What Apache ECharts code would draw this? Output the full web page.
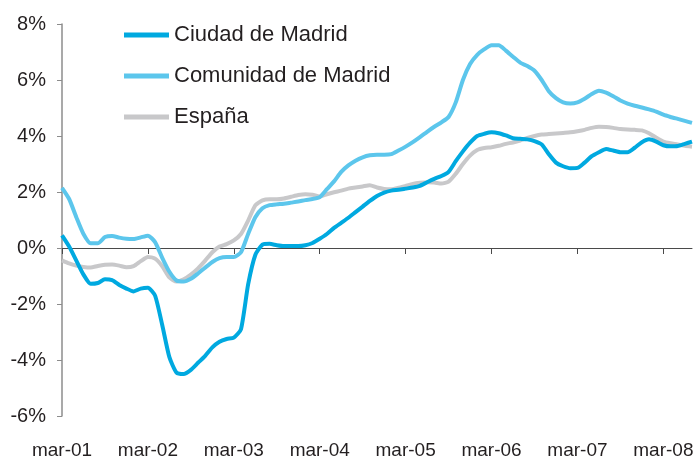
<!DOCTYPE html>
<html>
<head>
<meta charset="utf-8">
<script src="https://cdn.jsdelivr.net/npm/echarts@6/dist/echarts.min.js"></script>
<style>
  html, body { margin: 0; padding: 0; background: #fff; }
  #chart { width: 700px; height: 460px; }
</style>
</head>
<body>
<div id="chart"></div>
<script>
// monthly series, mar-01 .. jul-08
var monthNames = ['ene', 'feb', 'mar', 'abr', 'may', 'jun', 'jul', 'ago', 'sep', 'oct', 'nov', 'dic']
var months = []
for (var y = 1; y <= 8; y++) {
  for (var m = 0; m < 12; m++) {
    if (y === 1 && m < 2) continue
    if (y === 8 && m > 6) continue
    months.push(monthNames[m] + '-0' + y)
  }
}

var ciudad = [
  0.45, 0.05, -0.45, -0.95, -1.28, -1.25, -1.12, -1.15, -1.32, -1.45, -1.55, -1.45,
  -1.42, -1.7, -2.75, -3.9, -4.45, -4.5, -4.35, -4.1, -3.85, -3.55, -3.35, -3.25,
  -3.2, -2.9, -1.3, -0.25, 0.12, 0.15, 0.1, 0.07, 0.07, 0.07, 0.1, 0.18,
  0.33, 0.5, 0.72, 0.9, 1.08, 1.28, 1.48, 1.68, 1.86, 1.98, 2.05, 2.08,
  2.12, 2.16, 2.22, 2.35, 2.47, 2.57, 2.72, 3.1, 3.45, 3.76, 4.0, 4.08,
  4.13, 4.1, 4.02, 3.92, 3.9, 3.88, 3.82, 3.7, 3.35, 3.05, 2.92, 2.85,
  2.86, 3.05, 3.28, 3.42, 3.54, 3.48, 3.42, 3.42, 3.58, 3.78, 3.88, 3.8,
  3.67, 3.63, 3.64, 3.72, 3.8
]

var comunidad = [
  2.15, 1.75, 1.1, 0.5, 0.17, 0.17, 0.39, 0.43, 0.37, 0.33, 0.32, 0.38,
  0.44, 0.21, -0.35, -0.85, -1.16, -1.2, -1.1, -0.91, -0.7, -0.5, -0.36, -0.32,
  -0.32, -0.15, 0.5, 1.1, 1.42, 1.53, 1.56, 1.58, 1.62, 1.66, 1.71, 1.75,
  1.82, 2.1, 2.38, 2.72, 2.95, 3.12, 3.24, 3.31, 3.33, 3.33, 3.35, 3.48,
  3.62, 3.78, 3.96, 4.15, 4.33, 4.49, 4.68, 5.2, 6.0, 6.57, 6.9, 7.1,
  7.24, 7.24, 7.05, 6.83, 6.62, 6.5, 6.33, 6.0, 5.6, 5.35, 5.2, 5.16,
  5.2, 5.33, 5.5, 5.62, 5.55, 5.42, 5.27, 5.16, 5.08, 5.02, 4.95, 4.87,
  4.76, 4.68, 4.61, 4.54, 4.47
]

var espana = [
  -0.44, -0.55, -0.63, -0.68, -0.7, -0.64, -0.6, -0.59, -0.63, -0.69, -0.65, -0.47,
  -0.32, -0.38, -0.65, -1.05, -1.2, -1.12, -0.95, -0.73, -0.45, -0.15, 0.05, 0.14,
  0.27, 0.5, 0.98, 1.52, 1.7, 1.74, 1.74, 1.77, 1.83, 1.89, 1.92, 1.9,
  1.84, 1.92, 1.99, 2.05, 2.12, 2.16, 2.2, 2.24, 2.16, 2.11, 2.1, 2.15,
  2.22, 2.29, 2.33, 2.35, 2.34, 2.3, 2.37, 2.65, 3.0, 3.3, 3.5, 3.57,
  3.6, 3.65, 3.72, 3.77, 3.84, 3.93, 4.0, 4.05, 4.07, 4.09, 4.11, 4.13,
  4.17, 4.22, 4.29, 4.33, 4.32, 4.29, 4.25, 4.23, 4.22, 4.2, 4.1, 3.94,
  3.8, 3.74, 3.7, 3.65, 3.62
]

var fontFamily = '"Liberation Sans", Arial, Helvetica, sans-serif'
var textColor = '#231f20'

var chart = echarts.init(document.getElementById('chart'))

function yearTick(index) {
  return index % 12 === 0
}

chart.setOption({
  animation: false,
  grid: {
    left: 62,
    right: 8,
    top: 24,
    bottom: 40
  },
  legend: {
    orient: 'vertical',
    left: 124,
    top: 24,
    padding: 0,
    itemWidth: 45,
    itemHeight: 5,
    itemGap: 19,
    icon: 'rect',
    data: ['Ciudad de Madrid', 'Comunidad de Madrid', 'España'],
    textStyle: {
      fontFamily: fontFamily,
      fontSize: 22,
      color: textColor,
      padding: [0, 0, 0, 0]
    }
  },
  xAxis: [{
    type: 'category',
    data: months,
    boundaryGap: false,
    axisLine: {
      onZero: true,
      lineStyle: { color: '#4a4a4a', width: 1 }
    },
    axisTick: {
      interval: yearTick,
      length: 6,
      lineStyle: { color: '#4a4a4a' }
    },
    axisLabel: { show: false },
    splitLine: { show: false }
  }, {
    type: 'category',
    data: months,
    boundaryGap: false,
    position: 'bottom',
    axisLine: { show: false, onZero: false },
    axisTick: { show: false },
    axisLabel: {
      interval: yearTick,
      margin: 25,
      fontFamily: fontFamily,
      fontSize: 19,
      color: textColor
    },
    splitLine: { show: false }
  }],
  yAxis: {
    type: 'value',
    min: -6,
    max: 8,
    interval: 2,
    axisLine: {
      show: true,
      lineStyle: { color: '#8c8c8c', width: 1.5 }
    },
    axisTick: {
      show: true,
      length: 5,
      lineStyle: { color: '#8c8c8c' }
    },
    axisLabel: {
      margin: 16,
      fontFamily: fontFamily,
      fontSize: 20,
      color: textColor,
      formatter: function (v) { return v + '%' }
    },
    splitLine: { show: false }
  },
  series: [{
    name: 'España',
    type: 'line',
    data: espana,
    showSymbol: false,
    smooth: 0.2,
    color: '#c8c8ca',
    lineStyle: { width: 4, color: '#c8c8ca' }
  }, {
    name: 'Ciudad de Madrid',
    type: 'line',
    data: ciudad,
    showSymbol: false,
    smooth: 0.2,
    color: '#00a9e0',
    lineStyle: { width: 4, color: '#00a9e0' }
  }, {
    name: 'Comunidad de Madrid',
    type: 'line',
    data: comunidad,
    showSymbol: false,
    smooth: 0.2,
    color: '#5cc6ec',
    lineStyle: { width: 4, color: '#5cc6ec' }
  }]
})
</script>
</body>
</html>
